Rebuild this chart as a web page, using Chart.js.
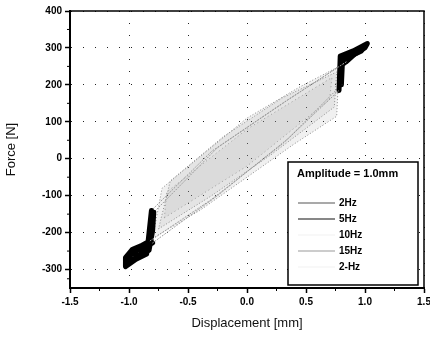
<!DOCTYPE html>
<html>
<head>
<meta charset="utf-8">
<script src="https://cdn.jsdelivr.net/npm/chart.js@4.4.1/dist/chart.umd.min.js"></script>
<style>
  html, body { margin: 0; padding: 0; background: #fff; }
  #wrap { width: 430px; height: 340px; }
</style>
</head>
<body>
<div id="wrap"><canvas id="hysteresisChart"></canvas></div>
<script>
// axis ticks
var xTicks = [-1.5, -1.0, -0.5, 0.0, 0.5, 1.0, 1.5];
var yTicks = [-300, -200, -100, 0, 100, 200, 300, 400];

// legend
var legendTitle = 'Amplitude = 1.0mm';
var seriesNames = ['2Hz', '5Hz', '10Hz', '15Hz', '2-Hz'];

// hysteresis loops (displacement mm / force N)
var disp2Hz  = [0.78, 0.79, 0.90, 1.02, 1.00, 0.92, 0.84, 0.30, -0.30, -0.81, -0.83, -0.85, -0.94, -1.03, -1.03, -0.97, -0.90, -0.82, -0.30, 0.30, 0.78];
var force2Hz = [185, 278, 292, 312, 300, 285, 262, 150, 20, -140, -200, -258, -272, -292, -268, -245, -236, -222, -110, 40, 185];

var disp5Hz  = [0.80, 0.81, 0.92, 1.00, 0.97, 0.88, 0.82, 0.35, -0.25, -0.79, -0.80, -0.83, -0.92, -1.00, -0.99, -0.93, -0.86, -0.80, -0.25, 0.35, 0.80];
var force5Hz = [200, 270, 290, 305, 292, 278, 258, 160, 30, -145, -195, -248, -262, -282, -262, -248, -240, -228, -100, 55, 200];

var disp10Hz  = [-0.80, -0.40, 0.00, 0.40, 0.76, 0.78, 0.45, 0.00, -0.40, -0.72, -0.80];
var force10Hz = [-215, -140, -50, 40, 115, 250, 195, 110, 5, -80, -215];

var disp15Hz  = [-0.75, -0.30, 0.20, 0.74, 0.76, 0.30, -0.20, -0.65, -0.75];
var force15Hz = [-190, -100, 10, 140, 235, 165, 60, -60, -190];

var disp2Hzb  = [-0.70, 0.00, 0.70, 0.72, 0.00, -0.68, -0.70];
var force2Hzb = [-160, -20, 160, 220, 80, -90, -160];

function pts(xs, ys) {
    return xs.map(function (x, i) { return { x: x, y: ys[i] }; });
}

// dark ends of the slow loops, grey dithered middle
function endSegment(ctx) {
    return Math.abs(ctx.p0.parsed.x) >= 0.76 && Math.abs(ctx.p1.parsed.x) >= 0.76;
}
var darkSegment = {
    borderColor: function (ctx) { return endSegment(ctx) ? '#000' : '#9a9a9a'; },
    borderWidth: function (ctx) { return endSegment(ctx) ? 5 : 1; },
    borderDash: function (ctx) { return endSegment(ctx) ? [] : [1, 2]; }
};

var font = '"Liberation Sans", Arial, sans-serif';

var frameAndMinor = {
    id: 'frameAndMinor',
    afterDraw: function (chart) {
        var ctx = chart.ctx, a = chart.chartArea;
        var xs = chart.scales.x, ys = chart.scales.y;
        ctx.save();
        ctx.strokeStyle = '#000';
        ctx.lineWidth = 1.5;
        ctx.beginPath();
        ctx.moveTo(a.left, a.top); ctx.lineTo(a.right, a.top); ctx.lineTo(a.right, a.bottom);
        ctx.stroke();
        // minor ticks halfway between majors
        ctx.lineWidth = 1;
        ctx.beginPath();
        for (var i = 0; i < xTicks.length - 1; i++) {
            var px = xs.getPixelForValue((xTicks[i] + xTicks[i + 1]) / 2);
            ctx.moveTo(px, a.bottom); ctx.lineTo(px, a.bottom + 3);
        }
        var yAll = [-350].concat(yTicks);
        for (var j = 0; j < yAll.length - 1; j++) {
            var py = ys.getPixelForValue((yAll[j] + yAll[j + 1]) / 2);
            ctx.moveTo(a.left, py); ctx.lineTo(a.left - 3, py);
        }
        ctx.stroke();
        ctx.restore();
    }
};

var legendBox = {
    id: 'legendBox',
    afterDraw: function (chart) {
        var ctx = chart.ctx, a = chart.chartArea;
        var x0 = a.right - 136, y0 = a.bottom - 126, w = 130, h = 123;
        ctx.save();
        ctx.fillStyle = '#fff';
        ctx.fillRect(x0, y0, w, h);
        ctx.strokeStyle = '#000';
        ctx.lineWidth = 1.5;
        ctx.strokeRect(x0, y0, w, h);
        ctx.fillStyle = '#000';
        ctx.textBaseline = 'middle';
        ctx.font = 'bold 11px ' + font;
        ctx.fillText(legendTitle, x0 + 9, y0 + 12);
        ctx.font = 'bold 10px ' + font;
        chart.data.datasets.forEach(function (ds, i) {
            var y = y0 + 41 + i * 16;
            ctx.strokeStyle = ds.legendColor;
            ctx.lineWidth = 1.2;
            ctx.beginPath();
            ctx.moveTo(x0 + 10, y); ctx.lineTo(x0 + 47, y);
            ctx.stroke();
            ctx.fillText(ds.label, x0 + 51, y);
        });
        ctx.restore();
    }
};

document.addEventListener('DOMContentLoaded', function () {
    var chartCtx = document.getElementById('hysteresisChart').getContext('2d');
    new Chart(chartCtx, {
        type: 'scatter',
        data: {
            datasets: [{
                label: seriesNames[0],
                data: pts(disp2Hz, force2Hz),
                showLine: true,
                borderColor: '#000',
                borderJoinStyle: 'round',
                borderCapStyle: 'round',
                legendColor: '#555',
                segment: darkSegment,
                pointRadius: 0
            }, {
                label: seriesNames[1],
                data: pts(disp5Hz, force5Hz),
                showLine: true,
                borderColor: '#000',
                borderJoinStyle: 'round',
                borderCapStyle: 'round',
                legendColor: '#111',
                segment: darkSegment,
                pointRadius: 0
            }, {
                label: seriesNames[2],
                data: pts(disp10Hz, force10Hz),
                showLine: true,
                borderColor: '#8a8a8a',
                borderWidth: 1,
                borderDash: [1, 2],
                backgroundColor: 'rgba(150,150,150,0.14)',
                fill: 'shape',
                legendColor: '#f2f2f2',
                pointRadius: 0
            }, {
                label: seriesNames[3],
                data: pts(disp15Hz, force15Hz),
                showLine: true,
                borderColor: '#8a8a8a',
                borderWidth: 1,
                borderDash: [1, 2],
                backgroundColor: 'rgba(150,150,150,0.14)',
                fill: 'shape',
                legendColor: '#999',
                pointRadius: 0
            }, {
                label: seriesNames[4],
                data: pts(disp2Hzb, force2Hzb),
                showLine: true,
                borderColor: '#a0a0a0',
                borderWidth: 1,
                borderDash: [1, 3],
                backgroundColor: 'rgba(170,170,170,0.14)',
                fill: 'shape',
                legendColor: '#f2f2f2',
                pointRadius: 0
            }]
        },
        options: {
            responsive: true,
            maintainAspectRatio: false,
            animation: false,
            layout: { padding: { left: 0, right: 6, top: 11, bottom: 0 } },
            plugins: {
                legend: { display: false },
                tooltip: { enabled: false }
            },
            scales: {
                x: {
                    type: 'linear',
                    min: -1.5,
                    max: 1.5,
                    afterBuildTicks: function (scale) {
                        scale.ticks = xTicks.map(function (v) { return { value: v }; });
                    },
                    afterFit: function (scale) {
                        scale.height = 52;
                        scale.paddingLeft = 0;
                        scale.paddingRight = 0;
                    },
                    ticks: {
                        color: '#000',
                        font: { family: font, size: 10, weight: 'bold' },
                        padding: 3,
                        maxRotation: 0,
                        callback: function (v) { return v.toFixed(1); }
                    },
                    grid: {
                        color: '#222',
                        lineWidth: 1,
                        tickLength: 5,
                        tickColor: '#000',
                        tickWidth: 1.5,
                        tickBorderDash: []
                    },
                    border: { display: true, color: '#000', width: 2, dash: [1, 11] },
                    title: {
                        display: true,
                        text: 'Displacement [mm]',
                        color: '#111',
                        font: { family: font, size: 13 },
                        padding: { top: 0, bottom: 9 }
                    }
                },
                y: {
                    type: 'linear',
                    min: -350,
                    max: 400,
                    afterBuildTicks: function (scale) {
                        scale.ticks = yTicks.map(function (v) { return { value: v }; });
                    },
                    afterFit: function (scale) {
                        scale.width = 70;
                        scale.paddingTop = 0;
                        scale.paddingBottom = 0;
                    },
                    ticks: {
                        color: '#000',
                        font: { family: font, size: 10, weight: 'bold' },
                        padding: 3
                    },
                    grid: {
                        color: '#222',
                        lineWidth: 1,
                        tickLength: 5,
                        tickColor: '#000',
                        tickWidth: 1.5,
                        tickBorderDash: []
                    },
                    border: { display: true, color: '#000', width: 2, dash: [1, 11] },
                    title: {
                        display: true,
                        text: 'Force [N]',
                        color: '#111',
                        font: { family: font, size: 13 },
                        padding: { top: 4, bottom: 0 }
                    }
                }
            }
        },
        plugins: [frameAndMinor, legendBox]
    });
});
</script>
</body>
</html>
